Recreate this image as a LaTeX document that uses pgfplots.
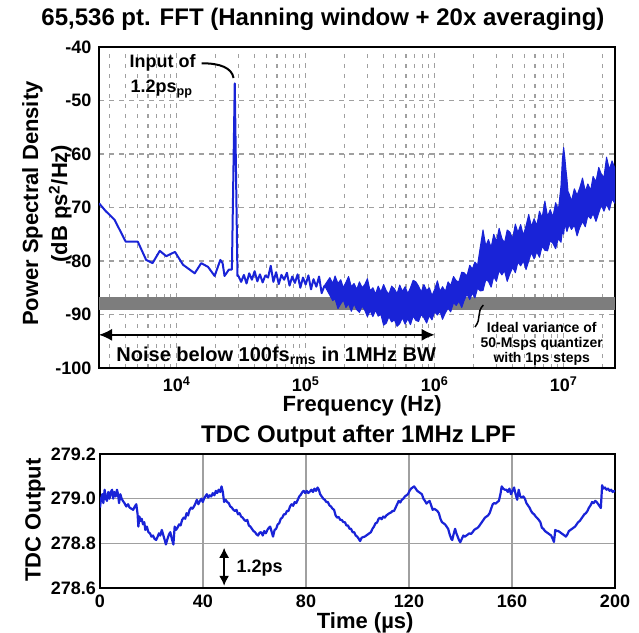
\documentclass[border=0pt]{standalone}
\usepackage{fontspec}
\setmainfont{Liberation Sans}
\usepackage{pgfplots}
\pgfplotsset{compat=1.18}
\usetikzlibrary{arrows.meta}
\definecolor{trace}{RGB}{25,35,215}
\definecolor{band}{RGB}{125,125,125}
\definecolor{gridc}{RGB}{160,160,160}
\newcommand{\fs}[1]{\fontsize{#1}{#1}\selectfont\bfseries}

\begin{document}
\begin{tikzpicture}[x=1pt,y=1pt]
\path[use as bounding box] (0,0) rectangle (639,632);

% ---------------- top: PSD ----------------
\begin{axis}[
  at={(99pt,264pt)}, anchor=south west,
  scale only axis, width=516pt, height=321pt,
  xmode=log, xmin=2500, xmax=2.5e7, ymin=-100, ymax=-40,
  xtick={1e4,1e5,1e6,1e7},
  xticklabels={10\textsuperscript{4},10\textsuperscript{5},10\textsuperscript{6},10\textsuperscript{7}},
  minor xtick={3000,4000,5000,6000,7000,8000,9000,
    2e4,3e4,4e4,5e4,6e4,7e4,8e4,9e4,
    2e5,3e5,4e5,5e5,6e5,7e5,8e5,9e5,
    2e6,3e6,4e6,5e6,6e6,7e6,8e6,9e6,2e7},
  ytick={-100,-90,-80,-70,-60,-50,-40},
  yticklabels={-100,-90,-80,-70,-60,-50,-40},
  xmajorgrids, xminorgrids, ymajorgrids,
  major grid style={gridc, line width=1.2pt, dash pattern=on 5pt off 5pt},
  minor grid style={gridc, line width=1.2pt, dash pattern=on 4pt off 6pt},
  major tick length=0pt, minor tick length=0pt,
  axis line style={line width=1.4pt},
  tick label style={font=\fs{18}, inner sep=0pt},
  xticklabel style={anchor=base, yshift=-23.5pt},
  yticklabel style={anchor=east, xshift=-7.5pt},
  xlabel={Frequency (Hz)},
  xlabel style={font=\fs{22}, at={(axis description cs:0.51,-0.118)}, anchor=center},
  ylabel={Power Spectral Density\\(dB ps\textsuperscript{2}/Hz)},
  ylabel style={font=\fontsize{22}{29}\selectfont\bfseries, align=center,
    at={(axis description cs:-0.1008,0.512)}, anchor=center},
  title={65,536 pt. FFT (Hanning window + 20x averaging)},
  title style={font=\fs{24}, at={(axis description cs:0.434,1.0686)}, anchor=center},
]
% ideal quantizer variance band
\addplot[fill=band, draw=none] coordinates {
  (2500,-86.7) (2.5e7,-86.7) (2.5e7,-89.2) (2500,-89.2)} -- cycle;

% low-frequency part with the input tone, then the sparse noise floor
\addplot[trace, line width=2pt, line join=round] coordinates {
  (2500,-69.2) (2800,-70.6) (3300,-72.3) (4030,-76.4) (5000,-76.4)
  (5800,-79.8) (6500,-80.4) (7400,-78.1) (8300,-79.1) (9700,-78.3)
  (11200,-80.7) (13800,-82.3) (15500,-80.4) (17500,-81.1) (19700,-82.8)
  (21800,-79.8) (22700,-80.4) (23500,-82.8) (25400,-81.6) (26800,-81.6)
  (28200,-46.8) (29600,-82.8)
  (3.01e4,-82.8) (3.16e4,-83.9) (3.32e4,-82.6) (3.48e4,-84.2) (3.65e4,-82.3)
  (3.83e4,-83.5) (4.02e4,-81.9) (4.22e4,-83.8) (4.42e4,-82.5) (4.64e4,-84.0)
  (4.87e4,-82.7) (5.11e4,-83.1) (5.36e4,-80.9) (5.62e4,-83.9) (5.90e4,-82.1)
  (6.19e4,-84.3) (6.49e4,-82.6) (6.81e4,-83.5) (7.15e4,-82.2) (7.50e4,-84.6)
  (7.87e4,-82.9) (8.25e4,-84.1) (8.66e4,-82.5) (9.09e4,-85.0) (9.53e4,-83.1)
  (1.00e5,-84.4) (1.05e5,-82.7) (1.10e5,-85.3) (1.15e5,-83.4) (1.21e5,-84.8)
  (1.27e5,-82.9) (1.33e5,-86.0) (1.40e5,-84.6)};

% dense noise floor: upper edge left to right, lower edge right to left
\addplot[trace, fill=trace, line width=1pt, line join=round] coordinates {
  (1.40e5,-84.6)
  (1.54e5,-83.1) (1.62e5,-84.2) (1.69e5,-82.8) (1.78e5,-84.2) (1.87e5,-83.5)
  (1.96e5,-85.0) (2.05e5,-84.0) (2.15e5,-82.9) (2.26e5,-84.8) (2.37e5,-84.2)
  (2.49e5,-85.3) (2.61e5,-83.9) (2.74e5,-85.0) (2.87e5,-84.4) (3.01e5,-83.3)
  (3.16e5,-85.6) (3.32e5,-85.0) (3.48e5,-86.2) (3.65e5,-84.7) (3.83e5,-85.8)
  (4.02e5,-84.4) (4.22e5,-85.6) (4.42e5,-86.2) (4.64e5,-84.7) (4.87e5,-85.2)
  (5.11e5,-86.1) (5.36e5,-84.5) (5.62e5,-85.7) (5.90e5,-84.8) (6.19e5,-86.1)
  (6.49e5,-85.0) (6.81e5,-83.6) (7.15e5,-83.9) (7.50e5,-84.7) (7.87e5,-85.8)
  (8.25e5,-84.4) (8.66e5,-85.5) (9.09e5,-85.0) (9.53e5,-86.5) (1.00e6,-85.3)
  (1.05e6,-83.7) (1.10e6,-85.7) (1.15e6,-84.8) (1.21e6,-85.7) (1.27e6,-83.9)
  (1.33e6,-84.6) (1.40e6,-82.9) (1.47e6,-83.7) (1.54e6,-83.9) (1.62e6,-82.1)
  (1.69e6,-82.2) (1.78e6,-82.8) (1.87e6,-80.8) (1.96e6,-81.5) (2.05e6,-80.2)
  (2.15e6,-80.8) (2.26e6,-77.3) (2.37e6,-74.2) (2.49e6,-77.2) (2.61e6,-76.0)
  (2.74e6,-77.5) (2.87e6,-75.0) (3.01e6,-76.4) (3.16e6,-73.9) (3.32e6,-75.8)
  (3.48e6,-76.6) (3.65e6,-74.2) (3.83e6,-74.6) (4.02e6,-75.8) (4.22e6,-73.1)
  (4.42e6,-74.7) (4.64e6,-73.2) (4.87e6,-75.2) (5.11e6,-73.4) (5.36e6,-71.3)
  (5.62e6,-73.6) (5.90e6,-72.1) (6.19e6,-73.4) (6.49e6,-70.7) (6.81e6,-71.9)
  (7.15e6,-68.8) (7.50e6,-71.7) (7.87e6,-70.4) (8.25e6,-71.8) (8.66e6,-69.1)
  (9.09e6,-70.5) (9.53e6,-66.0) (9.77e6,-61.0) (1.00e7,-58.8) (1.02e7,-60.6)
  (1.04e7,-62.8) (1.06e7,-64.6) (1.08e7,-67.0) (1.10e7,-67.4) (1.15e7,-68.8)
  (1.21e7,-66.5) (1.27e7,-67.7) (1.33e7,-66.4) (1.40e7,-64.5) (1.47e7,-67.0)
  (1.54e7,-65.6) (1.62e7,-66.8) (1.69e7,-64.2) (1.78e7,-65.2) (1.87e7,-62.5)
  (1.96e7,-63.8) (2.05e7,-64.4) (2.15e7,-60.6) (2.26e7,-62.9) (2.37e7,-61.3)
  (2.49e7,-62.6) (2.5e7,-62.6)
  (2.5e7,-68.5) (2.49e7,-69.2) (2.37e7,-68.4) (2.26e7,-70.5) (2.15e7,-69.4)
  (2.05e7,-70.7) (1.96e7,-69.5) (1.87e7,-71.0) (1.78e7,-72.6) (1.69e7,-71.1)
  (1.62e7,-72.1) (1.54e7,-71.5) (1.47e7,-73.6) (1.40e7,-72.6) (1.33e7,-73.8)
  (1.27e7,-75.3) (1.21e7,-73.3) (1.15e7,-74.1) (1.10e7,-73.2) (1.06e7,-74.5)
  (1.02e7,-73.0) (1.00e7,-75.0) (9.77e6,-74.5) (9.53e6,-76.5) (9.09e6,-75.8)
  (8.66e6,-77.7) (8.25e6,-76.7) (7.87e6,-76.2) (7.50e6,-78.1) (7.15e6,-78.0)
  (6.81e6,-77.2) (6.49e6,-79.3) (6.19e6,-78.3) (5.90e6,-79.6) (5.62e6,-78.4)
  (5.36e6,-80.0) (5.11e6,-81.6) (4.87e6,-80.0) (4.64e6,-80.9) (4.42e6,-80.2)
  (4.22e6,-82.2) (4.02e6,-81.2) (3.83e6,-82.4) (3.65e6,-83.8) (3.48e6,-81.8)
  (3.32e6,-82.6) (3.16e6,-81.8) (3.01e6,-83.8) (2.87e6,-82.9) (2.74e6,-84.9)
  (2.61e6,-83.8) (2.49e6,-83.5) (2.37e6,-85.5) (2.26e6,-85.6) (2.15e6,-85.1)
  (2.05e6,-86.9) (1.96e6,-86.0) (1.87e6,-87.2) (1.78e6,-86.2) (1.69e6,-87.4)
  (1.62e6,-88.7) (1.54e6,-87.5) (1.47e6,-88.3) (1.40e6,-87.8) (1.33e6,-89.5)
  (1.27e6,-88.8) (1.21e6,-89.7) (1.15e6,-90.9) (1.10e6,-89.4) (1.05e6,-90.1)
  (1.00e6,-89.5) (9.53e5,-91.0) (9.09e5,-90.2) (8.66e5,-91.6) (8.25e5,-90.6)
  (7.87e5,-90.0) (7.50e5,-91.3) (7.15e5,-91.1) (6.81e5,-90.3) (6.49e5,-91.9)
  (6.19e5,-90.8) (5.90e5,-91.8) (5.62e5,-90.6) (5.36e5,-91.7) (5.11e5,-92.2)
  (4.87e5,-91.0) (4.64e5,-91.4) (4.42e5,-90.4) (4.22e5,-91.6) (4.02e5,-92.0)
  (3.83e5,-90.0) (3.65e5,-90.3) (3.48e5,-89.2) (3.32e5,-90.4) (3.16e5,-89.3)
  (3.01e5,-90.4) (2.87e5,-89.2) (2.74e5,-88.4) (2.61e5,-89.6) (2.49e5,-89.1)
  (2.37e5,-88.0) (2.26e5,-89.4) (2.15e5,-88.0) (2.05e5,-88.7) (1.96e5,-87.3)
  (1.87e5,-88.0) (1.78e5,-88.9) (1.69e5,-87.1) (1.62e5,-87.4) (1.54e5,-86.4)} -- cycle;

% annotations
\node[font=\fs{18}, anchor=base west] at (rel axis cs:0.0523,0.9346) {Input of};
\node[font=\fs{18}, anchor=base west] at (rel axis cs:0.0543,0.8567) {1.2ps\textsubscript{pp}};
\draw[line width=2pt] (rel axis cs:0.199,0.949) .. controls (rel axis cs:0.2345,0.950) and (rel axis cs:0.2578,0.9346) .. (rel axis cs:0.2607,0.9034);
\draw[line width=1.5pt, {Latex[length=13pt,width=12pt]}-{Latex[length=13pt,width=12pt]}]
  (axis cs:2500,-93.8) -- (axis cs:1e6,-93.8);
\node[font=\fs{20}, anchor=base west] at (rel axis cs:0.027,0.0218) {Noise below 100fs\textsubscript{rms} in 1MHz BW};
\draw[line width=1.5pt] (rel axis cs:0.7448,0.1963) .. controls (rel axis cs:0.7306,0.1713) and (rel axis cs:0.7422,0.1558) .. (rel axis cs:0.7287,0.1277);
\node[font=\fs{14}, anchor=base] at (rel axis cs:0.858,0.1121) {Ideal variance of};
\node[font=\fs{14}, anchor=base] at (rel axis cs:0.858,0.0639) {50-Msps quantizer};
\node[font=\fs{14}, anchor=base] at (rel axis cs:0.858,0.0156) {with 1ps steps};
\end{axis}

% ---------------- bottom: time trace ----------------
\begin{axis}[
  at={(100pt,44pt)}, anchor=south west,
  scale only axis, width=515pt, height=134pt,
  xmin=0, xmax=200, ymin=278.6, ymax=279.2,
  xtick={0,40,80,120,160,200}, xticklabels={0,40,80,120,160,200},
  ytick={278.6,278.8,279.0,279.2}, yticklabels={278.6,278.8,279.0,279.2},
  grid=major, major grid style={gridc, line width=1.5pt},
  major tick length=0pt,
  axis line style={line width=1.4pt},
  tick label style={font=\fs{18}, inner sep=0pt},
  xticklabel style={anchor=base, yshift=-19pt},
  yticklabel style={anchor=east, xshift=-4pt},
  xlabel={Time (µs)},
  xlabel style={font=\fs{22}, at={(axis description cs:0.515,-0.261)}, anchor=center},
  ylabel={TDC Output},
  ylabel style={font=\fs{22}, at={(axis description cs:-0.126,0.507)}, anchor=center},
  title={TDC Output after 1MHz LPF},
  title style={font=\fs{24}, at={(axis description cs:0.502,1.090)}, anchor=center},
]
\addplot[trace, line width=2.2pt, line join=round] coordinates {
  (0.0,278.96) (0.4,279.00) (0.9,279.02) (1.3,278.98) (1.8,279.04) (2.3,279.00)
  (2.7,278.99) (3.2,279.03) (3.7,279.00) (4.2,279.03) (4.7,279.04) (5.1,279.00)
  (5.6,279.03) (6.1,279.01) (6.6,279.04) (7.0,279.02) (7.4,278.98) (7.9,279.02)
  (8.4,279.00) (8.9,278.99) (9.5,278.98) (10.2,278.965) (10.9,278.975) (11.5,278.96)
  (12.2,278.955) (12.9,278.95) (13.5,278.965) (14.1,278.975) (14.6,278.93) (14.9,278.875)
  (15.3,278.92) (15.8,278.90) (16.2,278.91) (16.7,278.885) (17.2,278.895) (17.6,278.86)
  (18.2,278.875) (18.8,278.85) (19.4,278.845) (20.0,278.83) (20.6,278.835) (21.2,278.82)
  (21.8,278.815) (22.4,278.83) (22.9,278.845) (23.4,278.835) (24.0,278.86) (24.5,278.84)
  (25.0,278.82) (25.6,278.795) (26.2,278.82) (26.8,278.84) (27.3,278.85) (27.9,278.82)
  (28.5,278.795) (29.0,278.875) (29.5,278.86) (30.1,278.87) (30.7,278.885) (31.3,278.88)
  (31.9,278.905) (32.5,278.915) (33.1,278.91) (33.6,278.935) (34.2,278.925) (34.8,278.95)
  (35.4,278.96) (35.9,278.955) (36.5,278.965) (37.1,278.98) (37.6,278.995) (38.2,278.975)
  (38.8,278.99) (39.4,279.00) (39.9,278.985) (40.4,279.00) (40.9,279.01) (41.5,279.02)
  (42.0,279.005) (42.6,279.015) (43.2,279.01) (43.8,279.025) (44.4,279.015) (45.0,279.035)
  (45.5,279.025) (46.1,279.04) (46.7,279.03) (47.2,279.055) (47.7,279.03) (48.2,278.985)
  (48.8,278.995) (49.4,278.985) (50.0,278.98) (50.6,278.965) (51.2,278.96) (51.8,278.95)
  (52.4,278.945) (53.0,278.95) (53.6,278.93) (54.2,278.935) (54.8,278.92) (55.4,278.915)
  (56.0,278.905) (56.6,278.90) (57.2,278.905) (57.8,278.88) (58.4,278.875) (59.0,278.865)
  (59.6,278.855) (60.2,278.85) (60.8,278.84) (61.4,278.835) (62.0,278.848) (62.6,278.85)
  (63.2,278.835) (63.8,278.855) (64.4,278.845) (65.0,278.86) (65.6,278.87) (66.1,278.875)
  (66.7,278.85) (67.2,278.83) (67.8,278.86) (68.4,278.865) (69.0,278.885) (69.6,278.89)
  (70.2,278.91) (70.8,278.915) (71.4,278.93) (72.0,278.93) (72.6,278.945) (73.2,278.945)
  (73.8,278.965) (74.4,278.975) (75.0,278.968) (75.6,278.985) (76.2,278.98) (76.8,278.995)
  (77.4,279.01) (78.0,279.018) (78.6,279.03) (79.1,279.035) (79.7,279.025) (80.3,279.035)
  (80.9,279.025) (81.5,279.032) (82.1,279.04) (82.7,279.03) (83.3,279.045) (83.9,279.035)
  (84.5,279.05) (85.0,279.04) (85.5,279.02) (86.1,279.01) (86.7,279.00) (87.3,278.995)
  (87.9,278.985) (88.5,278.985) (89.1,278.97) (89.7,278.965) (90.3,278.955) (90.9,278.95)
  (91.5,278.925) (92.1,278.915) (92.7,278.918) (93.3,278.905) (93.9,278.905) (94.5,278.895)
  (95.1,278.895) (95.7,278.88) (96.3,278.88) (96.9,278.865) (97.5,278.865) (98.1,278.85)
  (98.7,278.85) (99.3,278.835) (99.9,278.83) (100.5,278.82) (101.0,278.81) (101.6,278.825)
  (102.2,278.828) (102.8,278.83) (103.4,278.835) (104.0,278.84) (104.6,278.845) (105.2,278.85)
  (105.8,278.865) (106.4,278.875) (107.0,278.89) (107.6,278.893) (108.2,278.91) (108.8,278.915)
  (109.4,278.908) (110.0,278.92) (110.6,278.915) (111.2,278.925) (111.8,278.93) (112.4,278.935)
  (113.0,278.938) (113.6,278.945) (114.2,278.945) (114.8,278.96) (115.4,278.975) (116.0,278.99)
  (116.6,278.983) (117.2,278.995) (117.8,279.0) (118.4,279.01) (119.0,279.015) (119.6,279.02)
  (120.2,279.035) (120.8,279.045) (121.4,279.05) (122.0,279.055) (122.6,279.045) (123.2,279.035)
  (123.8,279.03) (124.4,279.025) (125.0,279.02) (125.6,279.0) (126.2,278.99) (126.8,278.978)
  (127.4,278.985) (128.0,278.99) (128.6,278.97) (129.2,278.95) (129.8,278.955) (130.4,278.95)
  (131.0,278.945) (131.6,278.935) (132.2,278.91) (132.8,278.895) (133.4,278.89) (134.0,278.885)
  (134.6,278.875) (135.2,278.865) (135.8,278.84) (136.4,278.82) (136.8,278.815) (137.3,278.84)
  (137.9,278.865) (138.4,278.845) (138.9,278.83) (139.4,278.815) (139.9,278.805) (140.5,278.82)
  (141.1,278.835) (141.7,278.83) (142.3,278.835) (142.9,278.84) (143.5,278.845) (144.1,278.842)
  (144.7,278.85) (145.3,278.86) (145.9,278.865) (146.5,278.868) (147.1,278.875) (147.7,278.885)
  (148.3,278.895) (148.9,278.905) (149.5,278.915) (150.1,278.92) (150.7,278.925) (151.3,278.935)
  (151.9,278.955) (152.5,278.975) (153.1,278.98) (153.7,278.978) (154.3,278.985) (154.9,278.99)
  (155.5,279.02) (156.0,279.055) (156.6,279.045) (157.2,279.04) (157.8,279.04) (158.4,279.03)
  (159.0,279.045) (159.6,279.02) (160.2,279.035) (160.8,279.05) (161.4,279.02) (162.0,278.995)
  (162.6,279.04) (163.2,279.01) (163.8,279.005) (164.4,279.01) (165.0,279.0) (165.6,278.98)
  (166.2,278.97) (166.8,278.96) (167.4,278.945) (168.0,278.935) (168.6,278.93) (169.2,278.92)
  (169.8,278.913) (170.4,278.905) (171.0,278.895) (171.6,278.87) (172.2,278.865) (172.8,278.855)
  (173.4,278.85) (174.0,278.845) (174.6,278.84) (175.2,278.835) (175.8,278.82) (176.3,278.806)
  (176.8,278.86) (177.4,278.855) (178.0,278.855) (178.6,278.85) (179.2,278.845) (179.8,278.84)
  (180.4,278.835) (180.9,278.83) (181.5,278.84) (182.1,278.855) (182.7,278.86) (183.3,278.865)
  (183.9,278.87) (184.5,278.875) (185.1,278.885) (185.7,278.895) (186.3,278.9) (186.9,278.91)
  (187.5,278.92) (188.1,278.93) (188.7,278.935) (189.3,278.945) (189.9,278.96) (190.5,278.97)
  (191.1,278.985) (191.7,278.98) (192.3,278.99) (192.9,278.985) (193.5,278.975) (194.1,278.965)
  (194.5,278.958) (195.0,279.06) (195.5,279.045) (196.1,279.05) (196.7,279.04) (197.3,279.045)
  (197.9,279.035) (198.5,279.04) (199.1,279.03) (199.6,279.035) (200.0,279.03)};
\draw[line width=1.5pt, {Latex[length=10pt,width=10pt]}-{Latex[length=10pt,width=10pt]}]
  (axis cs:48.2,278.78) -- (axis cs:48.2,278.61);
\node[font=\fs{18}, anchor=base west] at (rel axis cs:0.2583,0.1157) {1.2ps};
\end{axis}
\end{tikzpicture}
\end{document}
